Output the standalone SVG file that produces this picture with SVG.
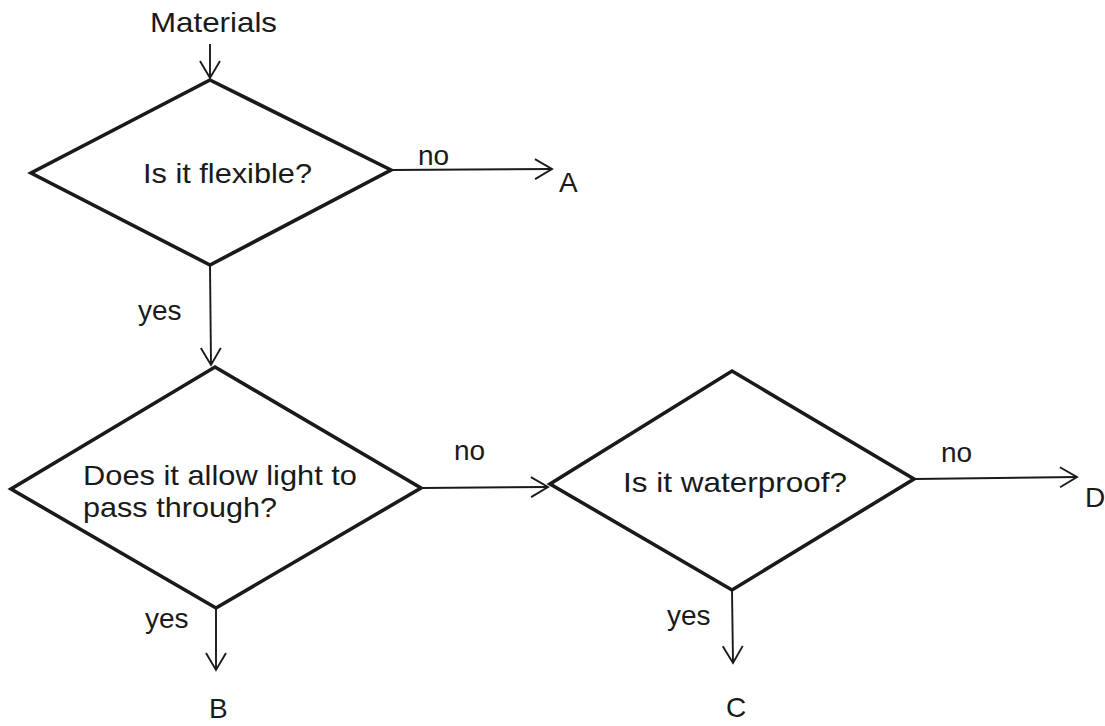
<svg xmlns="http://www.w3.org/2000/svg" width="1105" height="726" viewBox="0 0 1105 726">
<style>
.d{fill:none;stroke:#1a1a1a;stroke-width:3.6;stroke-linejoin:miter}
.c{fill:none;stroke:#1a1a1a;stroke-width:1.9}
.t{font-family:"Liberation Sans",Arial,sans-serif;font-size:28px;fill:#1a1a1a}
</style>
<defs>
<marker id="ah" markerUnits="userSpaceOnUse" markerWidth="24" markerHeight="26" refX="19" refY="12" orient="auto">
<path d="M2,2 L19,12 L2,22" fill="none" stroke="#1a1a1a" stroke-width="1.9"/>
</marker>
</defs>
<rect width="1105" height="726" fill="#fff"/>
<g id="start">
<text class="t" x="150" y="32" textLength="127" lengthAdjust="spacingAndGlyphs">Materials</text>
</g>
<g id="q1">
<polygon class="d" points="210,80 391,170 210,265 31,173"/>
<text class="t" x="143" y="183" textLength="169" lengthAdjust="spacingAndGlyphs">Is it flexible?</text>
</g>
<g id="q2">
<polygon class="d" points="215,367 421,488 216,608 11,489"/>
<text class="t" x="83" y="485" textLength="274" lengthAdjust="spacingAndGlyphs">Does it allow light to</text>
<text class="t" x="83" y="517" textLength="194" lengthAdjust="spacingAndGlyphs">pass through?</text>
</g>
<g id="q3">
<polygon class="d" points="732,371 914,479 732,590 550,484"/>
<text class="t" x="623" y="492" textLength="224" lengthAdjust="spacingAndGlyphs">Is it waterproof?</text>
</g>
<g id="A"><text class="t" x="559" y="192">A</text></g>
<g id="B"><text class="t" x="209" y="718">B</text></g>
<g id="C"><text class="t" x="726" y="717">C</text></g>
<g id="D"><text class="t" x="1085" y="507">D</text></g>
<g id="connectors">
<line class="c" x1="210" y1="44" x2="210" y2="78" marker-end="url(#ah)"/>
<line class="c" x1="391" y1="170" x2="552" y2="169" marker-end="url(#ah)"/>
<text class="t" x="418" y="165">no</text>
<line class="c" x1="210" y1="265" x2="211" y2="365" marker-end="url(#ah)"/>
<text class="t" x="138" y="320">yes</text>
<line class="c" x1="421" y1="488" x2="548" y2="487" marker-end="url(#ah)"/>
<text class="t" x="454" y="460">no</text>
<line class="c" x1="216" y1="608" x2="216" y2="670" marker-end="url(#ah)"/>
<text class="t" x="145" y="628">yes</text>
<line class="c" x1="914" y1="479" x2="1077" y2="477" marker-end="url(#ah)"/>
<text class="t" x="941" y="462">no</text>
<line class="c" x1="732" y1="590" x2="733" y2="663" marker-end="url(#ah)"/>
<text class="t" x="667" y="625">yes</text>
</g>
</svg>
